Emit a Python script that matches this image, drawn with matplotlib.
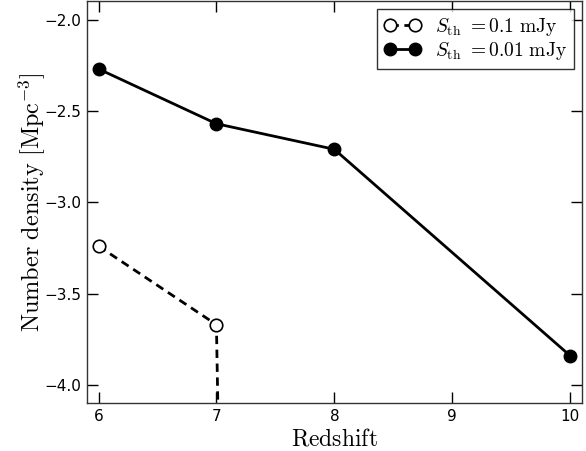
import matplotlib
matplotlib.use("Agg")
import matplotlib.pyplot as plt

plt.rcParams['mathtext.fontset'] = 'cm'
plt.rcParams['font.family'] = ['DejaVu Sans']

z_high = [6, 7, 8]
n_high = [-3.24, -3.67, -40.0]   # 0.1 mJy (drops off below axis)
z_low = [6, 7, 8, 10]
n_low = [-2.27, -2.57, -2.71, -3.84]  # 0.01 mJy

xticks = [6, 7, 8, 9, 10]
yticks = [-4.0, -3.5, -3.0, -2.5, -2.0]

fig = plt.figure(figsize=(5.86, 4.51), dpi=100)
ax = fig.add_axes([0.148, 0.106, 0.845, 0.891])

ax.plot(z_high, n_high, 'k--', lw=2, marker='o', ms=9, mfc='white', mec='black', mew=1.2,
        label=r'$S_{\rm th}\ =$$\mathrm{0.1\ mJy}$', dashes=(3, 2))
ax.plot(z_low, n_low, 'k-', lw=2, marker='o', ms=9, mfc='black', mec='black',
        label=r'$S_{\rm th}\ =$$\mathrm{0.01\ mJy}$')

ax.set_xlim(5.9, 10.1)
ax.set_ylim(-4.1, -1.9)
ax.set_xticks(xticks)
ax.set_yticks(yticks)
ax.set_xticklabels([str(t) for t in xticks])
ax.set_yticklabels(['\u22124.0', '\u22123.5', '\u22123.0', '\u22122.5', '\u22122.0'])
ax.tick_params(direction='in', length=8, width=1, top=True, right=True, labelsize=11, pad=4)
for s in ax.spines.values():
    s.set_color('#333333')
    s.set_linewidth(1)

ax.set_xlabel(r'$\mathrm{Redshift}$', fontsize=17, labelpad=2)
ax.set_ylabel(r'$\mathrm{Number\ density\ [Mpc^{-3}]}$', fontsize=17.5, va='center')
ax.yaxis.set_label_coords(-0.11, 0.5)

leg = ax.legend(loc='upper right', numpoints=2, fontsize=14, fancybox=False,
                frameon=True, handlelength=1.9, handletextpad=0.75, borderaxespad=0.4,
                labelspacing=0.1, borderpad=0.35)
leg.get_frame().set_edgecolor('black')
leg.get_frame().set_linewidth(1)

fig.savefig('out.png', dpi=100)
